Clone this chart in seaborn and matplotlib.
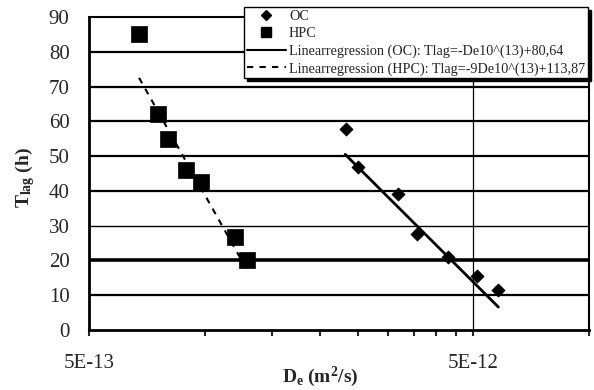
import numpy as np
import pandas as pd
import matplotlib
matplotlib.use("Agg")
import matplotlib.pyplot as plt
import seaborn as sns
from matplotlib.lines import Line2D
from matplotlib.ticker import FixedLocator, NullFormatter, FixedFormatter

# ---- data ----
oc_de = [2.33e-12, 2.51e-12, 3.19e-12, 3.57e-12, 4.30e-12, 5.12e-12, 5.81e-12]
oc_t = [57.7, 47.0, 39.2, 27.7, 21.1, 15.4, 11.4]
hpc_de = [6.75e-13, 7.56e-13, 8.03e-13, 8.94e-13, 9.79e-13, 1.20e-12, 1.29e-12]
hpc_t = [85.0, 62.0, 55.0, 46.0, 42.5, 26.6, 20.0]
oc_fit_de = [2.32e-12, 5.81e-12]
oc_fit_t = [50.5, 6.6]
hpc_fit_de = [6.75e-13, 1.30e-12]
hpc_fit_t = [72.5, 16.5]
x_major = [5e-13, 5e-12]
x_major_labels = ["5E-13", "5E-12"]
x_minor = [1e-12, 1.5e-12, 2e-12, 2.5e-12, 3e-12, 3.5e-12, 4e-12, 4.5e-12, 1e-11]
y_ticks = [0, 10, 20, 30, 40, 50, 60, 70, 80, 90]
legend_labels = ["OC", "HPC",
                 "Linearregression (OC): Tlag=-De10^(13)+80,64",
                 "Linearregression (HPC): Tlag=-9De10^(13)+113,87"]

sns.set_style("white")
plt.rcParams["font.family"] = ["Liberation Serif", "DejaVu Serif"]
plt.rcParams["mathtext.fontset"] = "custom"
plt.rcParams["mathtext.rm"] = "Liberation Serif"
plt.rcParams["mathtext.it"] = "Liberation Serif:italic"
plt.rcParams["mathtext.bf"] = "Liberation Serif:bold"

fig = plt.figure(figsize=(5.94, 3.90), dpi=100)
ax = fig.add_axes([89/594, 1-330/390, 500/594, 313/390])
ax.set_xscale("log")
ax.set_xlim(5e-13, 1e-11)
ax.set_ylim(0, 90)

# grid lines
for yv in y_ticks[1:-1]:
    lw = 2.6 if yv == 20 else (1.0 if yv == 30 else 1.6)
    ax.axhline(yv, color="black", lw=lw, zorder=1)
ax.axvline(5e-12, color="black", lw=0.9, zorder=1)

oc_df = pd.DataFrame({"De": oc_de, "T": oc_t})
hpc_df = pd.DataFrame({"De": hpc_de, "T": hpc_t})
sns.scatterplot(data=oc_df, x="De", y="T", marker="D", s=45, color="black",
                edgecolor="black", linewidth=0.5, ax=ax, zorder=3)
sns.scatterplot(data=hpc_df, x="De", y="T", marker="s", s=120, color="black",
                edgecolor="black", linewidth=0.5, ax=ax, zorder=3)
ax.plot(oc_fit_de, oc_fit_t, color="black", lw=2.0, zorder=4)
ax.plot(hpc_fit_de, hpc_fit_t, color="black", lw=1.5, ls=(0, (3, 3)), zorder=4)

# axes styling
for sp in ax.spines.values():
    sp.set_visible(True)
    sp.set_color("black")
    sp.set_linewidth(1.5)
ax.spines["left"].set_linewidth(2.0)
ax.spines["bottom"].set_linewidth(2.0)

ax.yaxis.set_major_locator(FixedLocator(y_ticks))
ax.set_yticklabels([str(v) for v in y_ticks])
ax.tick_params(axis="y", length=0, pad=14, labelsize=15, left=True)
ax.xaxis.set_major_locator(FixedLocator(x_major))
ax.xaxis.set_major_formatter(FixedFormatter(x_major_labels))
ax.xaxis.set_minor_locator(FixedLocator(x_minor))
ax.xaxis.set_minor_formatter(NullFormatter())
ax.tick_params(axis="x", which="major", direction="out", length=4, width=1.5,
               pad=13, labelsize=15, bottom=True)
ax.tick_params(axis="x", which="minor", direction="out", length=4, width=1.5,
               bottom=True)

ax.set_xlabel(r"$\mathbf{D_e\ (m^2/s)}$", fontsize=14)
ax.set_ylabel(r"$\mathbf{T_{lag}\ (h)}$", fontsize=14)
ax.xaxis.label.set_va("center")
ax.xaxis.set_label_coords((320-89)/500, (330-377)/313)
ax.yaxis.label.set_va("center")
ax.yaxis.label.set_ha("center")
ax.yaxis.set_label_coords((25-89)/500, (330-178)/313)

handles = [
    Line2D([], [], marker="D", color="black", ls="none", markersize=5),
    Line2D([], [], marker="s", color="black", ls="none", markersize=7),
    Line2D([], [], color="black", lw=1.5),
    Line2D([], [], color="black", lw=1.5, ls=(0, (3, 3))),
]
leg = ax.legend(handles, legend_labels, loc="upper right",
                bbox_to_anchor=(588/594, 1-7/390), bbox_transform=fig.transFigure,
                frameon=True, fancybox=False, fontsize=10.2, handlelength=2.7,
                handletextpad=0.25, labelspacing=0.3, borderpad=0.2,
                borderaxespad=0, shadow={"color": "black", "alpha": 1.0})
leg.get_frame().set_edgecolor("black")
leg.get_frame().set_linewidth(1.0)
leg.get_frame().set_facecolor("white")
leg.set_zorder(10)

fig.savefig("out.png", dpi=100)
